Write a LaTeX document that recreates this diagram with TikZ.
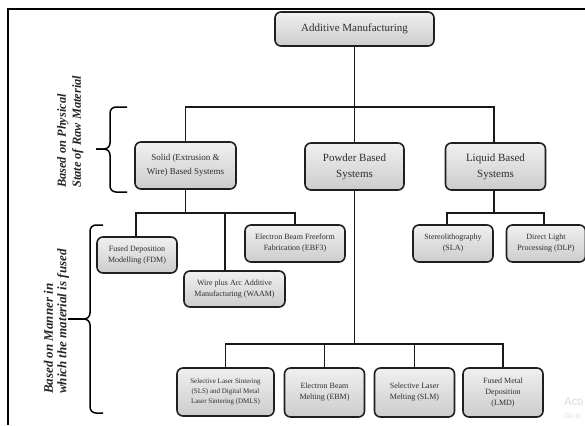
\documentclass[tikz,border=0pt]{standalone}
\usepackage{fontspec}
\setmainfont{Liberation Serif}
\newfontfamily\wmfont{Liberation Sans}
\begin{document}
\begin{tikzpicture}[x=1pt,y=-1pt,
  box/.style={draw=black!88, line width=1.6pt, rounded corners=6pt, top color=gray!12, bottom color=gray!40, inner sep=0pt, align=center, text=black!82},
  big/.style={font=\fontsize{11}{16}\selectfont},
  mid/.style={font=\fontsize{9}{14}\selectfont},
  small/.style={font=\fontsize{8}{11}\selectfont},
  tiny/.style={font=\fontsize{7}{10}\selectfont},
  conn/.style={line width=1.5pt, draw=black!90},
  side/.style={rotate=90, anchor=west, align=left, inner sep=0pt, text=black!85},
  bracestyle/.style={line width=1.5pt, rounded corners=6pt}]
\useasboundingbox (0,0) rectangle (585,425);
% frame
\draw[line width=1.4pt] (8,425) -- (8,9) -- (585,9);
% boxes
\node[box, big, minimum width=159pt, minimum height=34pt] (root) at (354.5,29) {Additive Manufacturing};
\node[box, mid, minimum width=101pt, minimum height=47pt] (solid) at (185.5,165.5) {Solid (Extrusion \&\\Wire) Based Systems};
\node[box, big, minimum width=99pt, minimum height=47pt] (powder) at (354.5,166.5) {Powder Based\\Systems};
\node[box, big, minimum width=100pt, minimum height=47pt] (liquid) at (495.5,166.5) {Liquid Based\\Systems};
\node[box, small, minimum width=80pt, minimum height=36pt] (fdm) at (137,255) {Fused Deposition\\Modelling (FDM)};
\node[box, small, minimum width=101pt, minimum height=36pt] (waam) at (234.5,289) {Wire plus Arc Additive\\Manufacturing (WAAM)};
\node[box, small, minimum width=100pt, minimum height=37pt] (ebf) at (295,243.5) {Electron Beam Freeform\\Fabrication (EBF3)};
\node[box, small, minimum width=80pt, minimum height=37pt] (sla) at (453,243.5) {Stereolithography\\(SLA)};
\node[box, small, minimum width=79pt, minimum height=37pt] (dlp) at (546,243.5) {Direct Light\\Processing (DLP)};
\node[box, tiny, minimum width=97pt, minimum height=48pt] (sls) at (225.5,392) {Selective Laser Sintering\\(SLS) and Digital Metal\\Laser Sintering (DMLS)};
\node[box, small, minimum width=80pt, minimum height=49pt] (ebm) at (324.5,392.5) {Electron Beam\\Melting (EBM)};
\node[box, small, minimum width=80pt, minimum height=49pt] (slm) at (414.5,392.5) {Selective Laser\\Melting (SLM)};
\node[box, small, minimum width=80pt, minimum height=49pt] (lmd) at (503,392.5) {Fused Metal\\Deposition\\(LMD)};
% junctions
\coordinate (j1) at (354.5,107);
\coordinate (j2) at (185.5,213);
\coordinate (j3) at (354.5,344);
\coordinate (j4) at (494,213);
% connectors
\draw[conn] (root.south) -- (j1);
\draw[conn] (solid.north) |- (j1) -| ([xshift=-1.5pt]liquid.north);
\draw[conn] (j1) -- (powder.north);
\draw[conn] (solid.south) -- (j2);
\draw[conn] ([xshift=-1pt]fdm.north) |- (j2) -| (ebf.north);
\draw[conn] ([xshift=-9.5pt]waam.north) -- ([xshift=-9.5pt]waam.north |- j2);
\draw[conn] (powder.south) -- (j3);
\draw[conn] (sls.north) |- (j3) -| (lmd.north);
\draw[conn] (ebm.north) -- (ebm.north |- j3);
\draw[conn] (slm.north) -- (slm.north |- j3);
\draw[conn] ([xshift=-1.5pt]liquid.south) -- (j4);
\draw[conn] ([xshift=-6pt]sla.north) |- (j4) -| ([xshift=-2pt]dlp.north);
% braces
\draw[bracestyle] (127,107) -- (110,107) -- (110,149) -- (96,149);
\draw[bracestyle] (127,192) -- (110,192) -- (110,149) -- (96,149);
\draw[bracestyle] (103,225) -- (90,225) -- (90,319) -- (68,319);
\draw[bracestyle] (103,413) -- (90,413) -- (90,319) -- (68,319);
\draw[line width=2.6pt] (69,319) -- (82,319);
% side labels
\node[side, font=\bfseries\itshape\fontsize{12.4}{15}\selectfont] (lab1) at (70.5,188) {Based on Physical\\State of Raw Material};
\node[side, font=\bfseries\itshape\fontsize{13}{13.5}\selectfont] (lab2) at (56.5,394) {Based on Manner in\\which the material is fused};
% watermark (cut off at the edge in the reference)
\node[anchor=west, inner sep=0pt, text=gray!28, font=\wmfont\fontsize{11.5}{11.5}\selectfont] (wm1) at (564,401) {Acti};
\node[anchor=west, inner sep=0pt, text=gray!28, font=\wmfont\fontsize{7}{7}\selectfont] (wm2) at (564,416) {Go to};
\end{tikzpicture}
\end{document}
